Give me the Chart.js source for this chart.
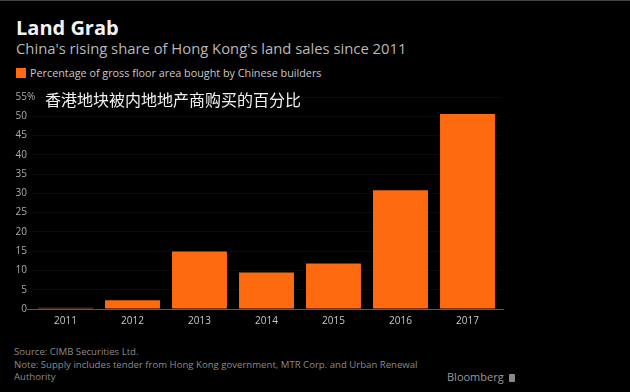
<!DOCTYPE html>
<html>
<head>
<meta charset="utf-8">
<script src="https://cdn.jsdelivr.net/npm/chart.js@4.4.1/dist/chart.umd.min.js"></script>
<style>
  html, body { margin: 0; padding: 0; background: #000; }
  #wrap { position: relative; width: 630px; height: 392px; background: #000; overflow: hidden;
          border-top: 1px solid #444; box-sizing: border-box; font-family: "Open Sans", "DejaVu Sans", sans-serif; }
  .t { position: absolute; white-space: nowrap; }
  #title { left: 16px; top: 13px; font-size: 20px; font-weight: bold; color: #f2f2f2; font-family: "Open Sans", sans-serif; }
  #sub { left: 16px; top: 37px; font-size: 14.8px; color: #b8b8b8; }
  #leg { left: 16px; top: 64px; font-size: 10.8px; color: #c8c8c8; }
  #leg i { display: inline-block; width: 10px; height: 10px; background: #fd6a0f; margin-right: 4px; vertical-align: -1px; }
  #zh { left: 45px; top: 86px; font-size: 16px; color: #f0f0f0; font-family: "Noto Sans CJK SC", sans-serif; }
  #foot { left: 14px; top: 345px; font-size: 9.6px; line-height: 12.5px; color: #8a8a8a; }
  #bbg { left: 447px; top: 368px; font-size: 11px; color: #9a9a9a; }
  #bbg i { display: inline-block; width: 6px; height: 8px; background: #8a8a8a; border-radius: 1px; margin-left: 5px; vertical-align: -1px; }
  #cv { position: absolute; left: 0; top: 85px; }
</style>
</head>
<body>
<div id="wrap">
  <div class="t" id="title">Land Grab</div>
  <div class="t" id="sub">China's rising share of Hong Kong's land sales since 2011</div>
  <div class="t" id="leg"><i></i>Percentage of gross floor area bought by Chinese builders</div>
  <canvas id="cv" width="510" height="245"></canvas>
  <div class="t" id="zh">香港地块被内地地产商购买的百分比</div>
  <div class="t" id="foot">Source: CIMB Securities Ltd.<br>Note: Supply includes tender from Hong Kong government, MTR Corp. and Urban Renewal<br>Authority</div>
  <div class="t" id="bbg">Bloomberg<i></i></div>
</div>
<script>
const categories = ["2011", "2012", "2013", "2014", "2015", "2016", "2017"];
const shareValues = [0.3, 2.3, 14.9, 9.5, 11.8, 30.8, 50.6];
const yTicks = [0, 5, 10, 15, 20, 25, 30, 35, 40, 45, 50, 55];

const baseline = {
  id: 'baseline',
  afterDatasetsDraw(chart) {
    const { ctx, chartArea, scales } = chart;
    const y = scales.y.getPixelForValue(0);
    ctx.save();
    ctx.strokeStyle = '#5a5a5a';
    ctx.lineWidth = 1;
    ctx.beginPath();
    ctx.moveTo(chartArea.left - 5, y + 0.5);
    ctx.lineTo(chartArea.right + 3, y + 0.5);
    ctx.stroke();
    const yt = scales.y.getPixelForValue(yTicks[yTicks.length - 1]);
    ctx.fillStyle = '#aaaaaa';
    ctx.font = '10px "Open Sans", sans-serif';
    ctx.textBaseline = 'middle';
    ctx.textAlign = 'left';
    ctx.fillText('%', chartArea.left - 5, yt);
    ctx.restore();
  }
};

new Chart(document.getElementById('cv'), {
  type: 'bar',
  data: {
    labels: categories,
    datasets: [{
      data: shareValues,
      backgroundColor: shareValues.map((v, i) => i === 0 ? '#8a4a22' : '#fd6a0f'),
      barPercentage: 0.82,
      categoryPercentage: 1.0,
      borderWidth: 0
    }]
  },
  options: {
    responsive: false,
    animation: false,
    layout: { padding: { top: 8, right: 9, left: 0, bottom: 0 } },
    plugins: { legend: { display: false }, tooltip: { enabled: false } },
    scales: {
      x: {
        grid: { display: false, drawTicks: false },
        border: { display: false },
        ticks: { color: '#c8c8c8', font: { size: 10, family: '"Open Sans", sans-serif' }, padding: 6, maxRotation: 0 },
        afterFit(s) { s.height = 22; }
      },
      y: {
        min: 0, max: 55,
        afterBuildTicks(s) { s.ticks = yTicks.map(v => ({ value: v })); },
        grid: { color: '#0b0b0b', drawTicks: false },
        border: { display: false },
        ticks: { color: '#aaaaaa', font: { size: 10, family: '"Open Sans", sans-serif' }, padding: 5,
                 callback: v => String(v) },
        afterFit(s) { s.width = 32; }
      }
    }
  },
  plugins: [baseline]
});
</script>
</body>
</html>
